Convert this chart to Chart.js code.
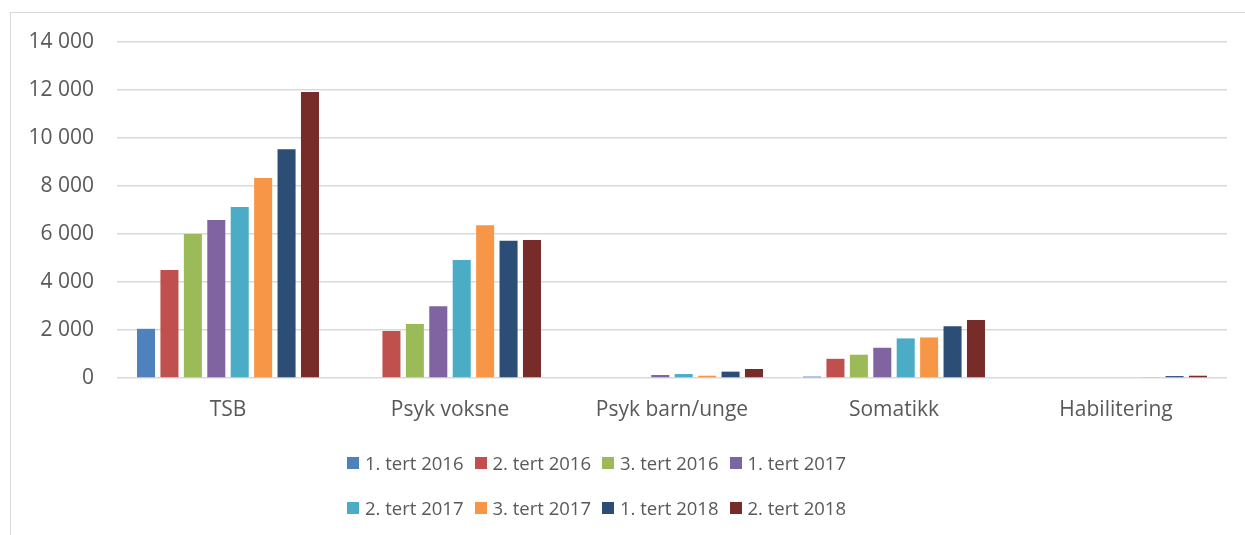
<!DOCTYPE html>
<html>
<head>
<meta charset="utf-8">
<script src="https://cdn.jsdelivr.net/npm/chart.js@4"></script>
<style>
  html, body { margin: 0; padding: 0; background: #fff; }
  #wrap { position: relative; width: 1245px; height: 535px; overflow: hidden; }
  #frame { position: absolute; left: 10px; top: 12px; width: 1250px; height: 540px; border: 1px solid #d9d9d9; box-sizing: border-box; }
  #chart { position: absolute; left: 0; top: 0; }
  #legend { position: absolute; left: 347px; top: 440px; display: grid; grid-template-columns: repeat(4, 127.5px); grid-auto-rows: 45px;
            font-family: "Open Sans", sans-serif; font-size: 18.5px; color: #595959; }
  .item { display: flex; align-items: center; white-space: nowrap; }
  .box { width: 12px; height: 12px; margin-right: 6px; flex: none; }
</style>
</head>
<body>
<div id="wrap">
  <div id="frame"></div>
  <canvas id="chart" width="1245" height="535"></canvas>
  <div id="legend"></div>
</div>
<script>
(function() {
    const categories = ['TSB', 'Psyk voksne', 'Psyk barn/unge', 'Somatikk', 'Habilitering'];
    const seriesNames = ['1. tert 2016', '2. tert 2016', '3. tert 2016', '1. tert 2017',
                         '2. tert 2017', '3. tert 2017', '1. tert 2018', '2. tert 2018'];
    const seriesColors = ['#4f81bd', '#c0504d', '#9bbb59', '#8064a2', '#4bacc6', '#f79646', '#2c4d75', '#772c2a'];

    // one array per period, values per category
    const tert1_2016 = [2050, 0, 0, 60, 0];
    const tert2_2016 = [4500, 1960, 0, 800, 0];
    const tert3_2016 = [6000, 2250, 0, 970, 0];
    const tert1_2017 = [6580, 2990, 125, 1260, 0];
    const tert2_2017 = [7120, 4920, 165, 1650, 0];
    const tert3_2017 = [8330, 6360, 95, 1690, 40];
    const tert1_2018 = [9530, 5720, 265, 2160, 80];
    const tert2_2018 = [11920, 5750, 375, 2420, 95];
    const seriesValues = [tert1_2016, tert2_2016, tert3_2016, tert1_2017, tert2_2017, tert3_2017, tert1_2018, tert2_2018];

    const yTicks = [0, 2000, 4000, 6000, 8000, 10000, 12000, 14000];

    const font = { family: '"Open Sans", sans-serif', size: 21 };
    const textColor = '#595959';

    const datasets = seriesNames.map((name, i) => ({
        label: name,
        data: seriesValues[i],
        backgroundColor: seriesColors[i],
        borderWidth: 0,
        categoryPercentage: 0.844,
        barPercentage: 0.77
    }));

    const fmt = v => String(v).replace(/\B(?=(\d{3})+(?!\d))/g, ' ');

    new Chart(document.getElementById('chart').getContext('2d'), {
        type: 'bar',
        data: { labels: categories, datasets: datasets },
        options: {
            responsive: false,
            animation: false,
            layout: { padding: { top: 42, right: 18, bottom: 107, left: 0 } },
            plugins: {
                legend: { display: false },
                tooltip: { enabled: false }
            },
            scales: {
                x: {
                    grid: { display: false, drawTicks: false },
                    border: { display: false },
                    ticks: { font: font, color: textColor, padding: 19 },
                    afterFit: s => { s.height = 50; }
                },
                y: {
                    min: 0,
                    max: 14000,
                    afterBuildTicks: s => { s.ticks = yTicks.map(v => ({ value: v })); },
                    grid: { color: '#d9d9d9', lineWidth: 1.5, drawTicks: false },
                    border: { display: false },
                    ticks: { font: font, color: textColor, padding: 23, callback: v => fmt(v) },
                    afterFit: s => { s.width = 117; }
                }
            }
        }
    });

    const legend = document.getElementById('legend');
    seriesNames.forEach((name, i) => {
        const item = document.createElement('div');
        item.className = 'item';
        const box = document.createElement('span');
        box.className = 'box';
        box.style.background = seriesColors[i];
        item.appendChild(box);
        item.appendChild(document.createTextNode(name));
        legend.appendChild(item);
    });
})();
</script>
</body>
</html>
